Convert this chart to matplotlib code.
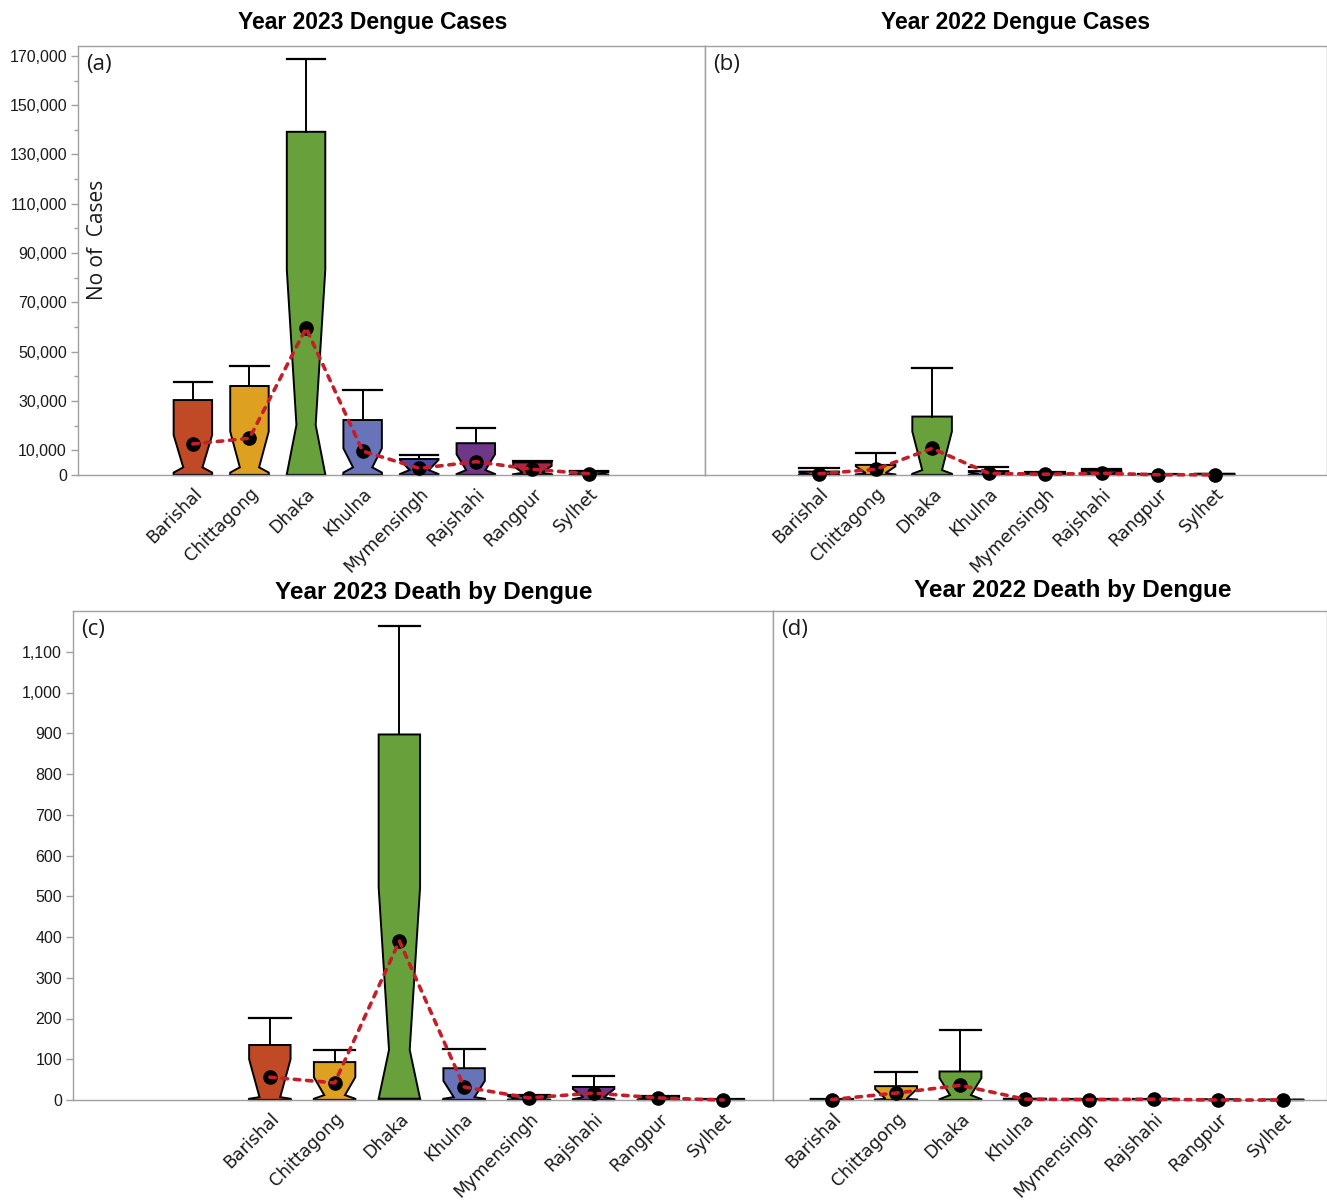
import numpy as np
import matplotlib.pyplot as plt
import matplotlib.transforms as mtransforms
from matplotlib.ticker import FixedLocator, FuncFormatter

divisions = ["Barishal", "Chittagong", "Dhaka", "Khulna",
             "Mymensingh", "Rajshahi", "Rangpur", "Sylhet"]
box_colors = ["#C04A25", "#DEA020", "#68A03C", "#6973B9",
              "#4B4BA5", "#6E3787", "#AA2846", "#3C3C3C"]

# Year 2023 dengue cases (per division)
cases23_q1 = [0, 0, 0, 0, 0, 0, 0, 0]
cases23_cilo = [1000, 1000, 300, 1000, 400, 400, 300, 100]
cases23_med = [3100, 3100, 20300, 3100, 2000, 2000, 900, 300]
cases23_cihi = [16200, 17600, 83200, 10800, 6100, 8400, 3700, 1200]
cases23_q3 = [30400, 36100, 139200, 22300, 6500, 12900, 5100, 1500]
cases23_whishi = [37700, 44200, 168800, 34500, 8100, 19200, 5700, 1800]
cases23_mean = [12600, 14900, 59600, 9700, 2700, 5400, 2300, 500]

# Year 2022 dengue cases
cases22_q1 = [0, 0, 0, 0, 0, 0, 0, 0]
cases22_cilo = [100, 200, 500, 100, 50, 100, 20, 30]
cases22_med = [300, 800, 2000, 400, 200, 400, 80, 100]
cases22_cihi = [1000, 3500, 17600, 1200, 800, 1500, 300, 400]
cases22_q3 = [1400, 4100, 23700, 1600, 1000, 1800, 400, 500]
cases22_whishi = [3000, 9000, 43300, 3100, 1200, 2300, 500, 600]
cases22_mean = [500, 2300, 10800, 700, 300, 700, 100, 100]

# Year 2023 deaths
deaths23_q1 = [0, 0, 3, 0, 0, 0, 0, 0]
deaths23_cilo = [3, 3, 3, 3, 1, 2, 1, 0]
deaths23_med = [7, 12, 123, 7, 3, 7, 3, 1]
deaths23_cihi = [100, 56, 522, 47, 9, 27, 7, 1.5]
deaths23_q3 = [135, 93, 897, 78, 10, 32, 8, 2]
deaths23_whishi = [201, 123, 1162, 125, 12, 59, 10, 2]
deaths23_mean = [56, 42, 390, 32, 5, 17, 5, 0]

# Year 2022 deaths
deaths22_q1 = [0, 0, 0, 0, 0, 0, 0, 0]
deaths22_cilo = [0, 1, 2, 0, 0, 0, 0, 0]
deaths22_med = [1, 3, 12, 1, 1, 1, 0.5, 0.3]
deaths22_cihi = [1.5, 27, 54, 2, 1.5, 1.5, 0.8, 0.5]
deaths22_q3 = [2, 34, 70, 3, 2, 2, 1, 0.6]
deaths22_whishi = [3, 68, 173, 3, 2, 2, 1, 0.6]
deaths22_mean = [1, 17, 36, 2, 1, 2, 0, 0]

W, H = 1327, 1200
fig = plt.figure(figsize=(W / 100, H / 100), dpi=100)


def px_axes(left, top, right, bottom, **kw):
    return fig.add_axes([left / W, 1 - bottom / H, (right - left) / W, (bottom - top) / H], **kw)


def draw_panel(ax, q1, cilo, med, cihi, q3, whishi, mean, width, label_dx=0):
    pos = np.arange(len(divisions))
    stats = []
    for i in range(len(divisions)):
        stats.append(dict(q1=q1[i], cilo=cilo[i], med=med[i], cihi=cihi[i],
                          q3=q3[i], whislo=q1[i], whishi=whishi[i],
                          mean=mean[i], fliers=[]))
    art = ax.bxp(stats, positions=pos, widths=width, capwidths=width,
                 patch_artist=True, shownotches=True, showfliers=False,
                 boxprops=dict(edgecolor="black", linewidth=1.4),
                 whiskerprops=dict(color="black", linewidth=1.4),
                 capprops=dict(color="black", linewidth=1.6),
                 medianprops=dict(visible=False), manage_ticks=False)
    for patch, c in zip(art["boxes"], box_colors):
        patch.set_facecolor(c)
    for key in ("boxes", "whiskers", "caps"):
        for a in art[key]:
            a.set_clip_on(False)
    # mean markers joined by a red dotted trend line
    ax.plot(pos, mean, "o", color="black", ms=9.5, zorder=4, clip_on=False)
    ax.plot(pos, mean, color="#C41E2A", lw=2.6, dashes=(1.5, 1.9),
            dash_capstyle="round", zorder=5, clip_on=False)

    ax.set_xticks(pos)
    labels = ax.set_xticklabels(divisions, rotation=45, ha="right", va="top",
                                rotation_mode="anchor", fontsize=12.5, color="#1a1a1a")
    shift = mtransforms.ScaledTranslation(label_dx / 100, 0, fig.dpi_scale_trans)
    for lab in labels:
        lab.set_transform(lab.get_transform() + shift)
    ax.tick_params(axis="x", length=0, pad=7)
    for s in ax.spines.values():
        s.set_color("#a0a0a0")
        s.set_linewidth(1.0)


fmt = FuncFormatter(lambda v, p: f"{v:,.0f}")

ax_a = px_axes(78, 46, 705, 475)
ax_b = px_axes(705, 46, 1327, 475, sharey=ax_a)
ax_c = px_axes(73, 611, 773, 1100)
ax_d = px_axes(773, 611, 1327, 1100, sharey=ax_c)

draw_panel(ax_a, cases23_q1, cases23_cilo, cases23_med, cases23_cihi,
           cases23_q3, cases23_whishi, cases23_mean, 0.68, label_dx=6)
draw_panel(ax_b, cases22_q1, cases22_cilo, cases22_med, cases22_cihi,
           cases22_q3, cases22_whishi, cases22_mean, 0.70, label_dx=2)
draw_panel(ax_c, deaths23_q1, deaths23_cilo, deaths23_med, deaths23_cihi,
           deaths23_q3, deaths23_whishi, deaths23_mean, 0.64, label_dx=-3)
draw_panel(ax_d, deaths22_q1, deaths22_cilo, deaths22_med, deaths22_cihi,
           deaths22_q3, deaths22_whishi, deaths22_mean, 0.65, label_dx=2)

ax_a.set_xlim(-2.03, 9.05)
ax_b.set_xlim(-2.02, 8.99)
ax_c.set_xlim(-3.04, 7.77)
ax_d.set_xlim(-0.91, 7.69)

ax_a.set_ylim(0, 174000)
ax_a.yaxis.set_major_locator(FixedLocator([0] + list(range(10000, 170001, 20000))))
ax_a.yaxis.set_minor_locator(FixedLocator(list(range(20000, 160001, 20000))))
ax_a.yaxis.set_major_formatter(fmt)

ax_c.set_ylim(0, 1200)
ax_c.yaxis.set_major_locator(FixedLocator(list(range(0, 1101, 100))))
ax_c.yaxis.set_major_formatter(fmt)

for ax in (ax_a, ax_c):
    ax.tick_params(axis="y", which="major", length=5, width=1, color="#a0a0a0",
                   labelsize=11.5, labelcolor="#1a1a1a", pad=3)
    ax.tick_params(axis="y", which="minor", length=3, width=1, color="#a0a0a0")
    for lab in ax.get_yticklabels():
        lab.set_family("Liberation Sans")
for ax in (ax_b, ax_d):
    ax.tick_params(axis="y", which="both", left=False, labelleft=False)

for ax, letter in ((ax_a, "(a)"), (ax_b, "(b)"), (ax_c, "(c)"), (ax_d, "(d)")):
    ax.annotate(letter, xy=(0, 1), xycoords="axes fraction", xytext=(8, -8),
                textcoords="offset pixels", ha="left", va="top",
                fontsize=16, family="Open Sans", color="#1a1a1a")

fig.text(97 / W, 1 - 240 / H, "No of  Cases", rotation=90, ha="center", va="center",
         fontsize=15, family="Open Sans", color="#1a1a1a")

title_kw = dict(ha="center", va="center", fontweight="bold", family="Liberation Sans")
fig.text(373 / W, 1 - 23 / H, "Year 2023 Dengue Cases", fontsize=16.5, **title_kw)
fig.text(1016 / W, 1 - 23 / H, "Year 2022 Dengue Cases", fontsize=16.5, **title_kw)
fig.text(434 / W, 1 - 593 / H, "Year 2023 Death by Dengue", fontsize=17.5, **title_kw)
fig.text(1073 / W, 1 - 590 / H, "Year 2022 Death by Dengue", fontsize=17.5, **title_kw)

fig.savefig("out.png", dpi=100)
